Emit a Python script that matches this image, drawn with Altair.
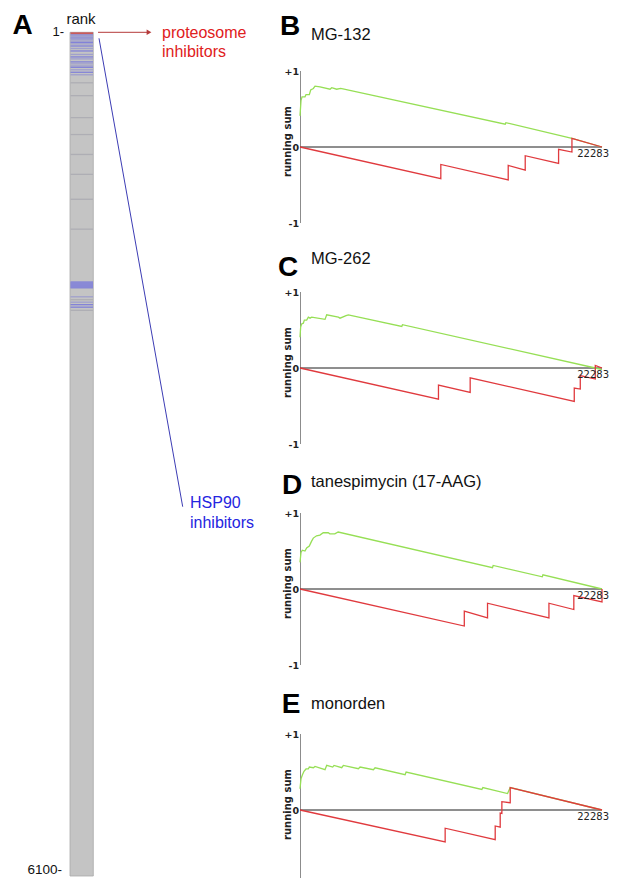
import altair as alt
import pandas as pd

# ---------------- data ----------------
N_GENES = 22283
RANK_FIRST, RANK_LAST = 1, 6100

# panel A: rank bar (ranks of connectivity-map instances)
red_band = [1, 14]  # proteosome inhibitors at the very top
blue_strong = [20, 42, 74, 100, 136, 179, 215, 254, 290,
               1806, 1813, 1820, 1827, 1834, 1841, 1848, 1970, 1988]
blue_light = [31, 53, 64, 85, 118, 161, 193, 229, 244, 272, 308, 1913, 1952]
gray_lines = [366, 459, 618, 740, 884, 1028, 1208, 1424, 1934, 2011]

# panels B-E: running-sum curves (x = gene rank, y = running sum)
letters = ["B", "C", "D", "E"]
names = ["MG-132", "MG-262", "tanespimycin (17-AAG)", "monorden"]

mg132_up_x = [0, 74, 148, 369, 443, 689, 788, 985, 1108, 1477, 2216, 2339, 2708, 3004, 15141, 15190, 20065, 22283]
mg132_up_y = [0.41, 0.61, 0.66, 0.66, 0.69, 0.69, 0.75, 0.77, 0.80, 0.79, 0.76, 0.78, 0.76, 0.77, 0.30, 0.32, 0.115, 0.0]
mg132_dn_x = [0, 10390, 10390, 15363, 15363, 16618, 16618, 19080, 19080, 20065, 20065, 22283]
mg132_dn_y = [0, -0.416, -0.23, -0.434, -0.243, -0.305, -0.115, -0.217, -0.03, -0.066, 0.115, 0.0]

mg262_up_x = [0, 49, 123, 246, 320, 492, 615, 739, 862, 1847, 1970, 2831, 2954, 3398, 3570, 7509, 7560, 21788, 22283]
mg262_up_y = [0.405, 0.54, 0.58, 0.59, 0.63, 0.63, 0.67, 0.656, 0.67, 0.64, 0.70, 0.67, 0.656, 0.69, 0.70, 0.546, 0.57, 0.0, -0.02]
mg262_dn_x = [0, 10217, 10217, 12556, 12556, 20237, 20237, 20680, 20680, 21788, 21788, 22283]
mg262_dn_y = [0, -0.41, -0.225, -0.32, -0.13, -0.44, -0.264, -0.277, -0.10, -0.145, 0.035, 0.0]

tane_up_x = [0, 73, 171, 367, 490, 686, 857, 980, 1224, 1469, 1714, 2081, 2204, 2571, 2816, 14204, 14253, 17877, 17926, 22283]
tane_up_y = [0.35, 0.48, 0.51, 0.50, 0.54, 0.565, 0.63, 0.67, 0.70, 0.71, 0.74, 0.74, 0.726, 0.726, 0.75, 0.28, 0.31, 0.16, 0.187, 0.0]
tane_dn_x = [0, 12123, 12123, 13837, 13837, 18368, 18368, 20204, 20204, 22283, 22283]
tane_dn_y = [0, -0.487, -0.29, -0.38, -0.187, -0.38, -0.187, -0.27, -0.087, -0.17, 0.0]

mono_up_x = [0, 74, 172, 295, 443, 615, 689, 985, 1108, 1847, 1970, 2413, 2511, 3078, 3200, 4309, 4432, 5416, 5540, 7755, 7829, 13418, 13492, 15314, 15511, 22283]
mono_up_y = [0.28, 0.41, 0.46, 0.51, 0.54, 0.54, 0.565, 0.556, 0.574, 0.53, 0.587, 0.565, 0.587, 0.556, 0.587, 0.543, 0.565, 0.53, 0.556, 0.465, 0.50, 0.27, 0.296, 0.217, 0.296, 0.0]
mono_dn_x = [0, 10710, 10710, 14403, 14403, 14772, 14772, 14895, 14895, 15511, 15511, 22283]
mono_dn_y = [0, -0.42, -0.24, -0.39, -0.21, -0.225, -0.04, -0.045, 0.11, 0.095, 0.296, 0.0]

curves = [
    (mg132_up_x, mg132_up_y, mg132_dn_x, mg132_dn_y),
    (mg262_up_x, mg262_up_y, mg262_dn_x, mg262_dn_y),
    (tane_up_x, tane_up_y, tane_dn_x, tane_dn_y),
    (mono_up_x, mono_up_y, mono_dn_x, mono_dn_y),
]

# ---------------- styling / layout ----------------
SANS = "Liberation Sans"
GREEN = "#96df55"
RED = "#e03a3e"

LW, LH = 262, 870
RANK1_PX, RANKN_PX = 24.3, 868.0
px_per_rank = (RANKN_PX - RANK1_PX) / (RANK_LAST - RANK_FIRST)
rank_scale = alt.Scale(
    domain=[RANK_FIRST - RANK1_PX / px_per_rank, RANK_LAST + (LH - RANKN_PX) / px_per_rank],
    reverse=True, nice=False, zero=False)

PW, PH = 302, 215
PH_LAST = 207
UNIT_PX = 76.0            # pixels per running-sum unit
TOP_BAND = 63             # pixels above +1 reserved for panel heading
y_top = 1 + TOP_BAND / UNIT_PX
heading_pos = {
    "B": dict(lx=-10, ly=18.5, ny=26.5),
    "C": dict(lx=-12, ly=38.5, ny=30),
    "D": dict(lx=-8, ly=36, ny=31.5),
    "E": dict(lx=-9, ly=34, ny=32.5),
}


def text_layer(txt, x, y, **kw):
    return alt.Chart(pd.DataFrame({"t": [txt]})).mark_text(**kw).encode(
        x=alt.value(x), y=alt.value(y), text="t:N")


# ---------------- panel A ----------------
bar_df = pd.DataFrame({"top": [RANK_FIRST], "bottom": [RANK_LAST]})
bar = alt.Chart(bar_df).mark_rect(fill="#c4c4c4", stroke="#a9a9a9", strokeWidth=0.8).encode(
    y=alt.Y("top:Q", scale=rank_scale, axis=None), y2="bottom:Q",
    x=alt.value(62), x2=alt.value(85.3))

lines_df = pd.DataFrame({
    "rank": gray_lines + blue_light + blue_strong,
    "kind": ["gray"] * len(gray_lines) + ["light"] * len(blue_light) + ["strong"] * len(blue_strong),
})
bar_lines = alt.Chart(lines_df).mark_rule(strokeWidth=1.3).encode(
    y=alt.Y("rank:Q", scale=rank_scale, axis=None),
    x=alt.value(62.5), x2=alt.value(85),
    color=alt.Color("kind:N", legend=None,
                    scale=alt.Scale(domain=["gray", "light", "strong"],
                                    range=["#aeaeb4", "#a0a0cc", "#8282d8"])))

red_df = pd.DataFrame({"top": [red_band[0]], "bottom": [red_band[1]]})
red_rect = alt.Chart(red_df).mark_rect(fill="#c95a5a").encode(
    y=alt.Y("top:Q", scale=rank_scale, axis=None), y2="bottom:Q",
    x=alt.value(62.5), x2=alt.value(85))

first_df = pd.DataFrame({"rank": [RANK_FIRST], "label": [f"{RANK_FIRST}-"]})
last_df = pd.DataFrame({"rank": [RANK_LAST], "label": [f"{RANK_LAST}-"]})
first_tick = alt.Chart(first_df).mark_text(align="right", baseline="middle", fontSize=13,
                                           font=SANS, color="#111").encode(
    y=alt.Y("rank:Q", scale=rank_scale, axis=None), x=alt.value(56), text="label:N")
last_tick = alt.Chart(last_df).mark_text(align="right", baseline="middle", fontSize=13.5,
                                         font=SANS, color="#111", dy=-6).encode(
    y=alt.Y("rank:Q", scale=rank_scale, axis=None), x=alt.value(54), text="label:N")

arrow_df = pd.DataFrame({"rank": [RANK_FIRST]})
arrow_line = alt.Chart(arrow_df).mark_rule(color="#b53a3a", strokeWidth=1).encode(
    y=alt.Y("rank:Q", scale=rank_scale, axis=None), x=alt.value(90), x2=alt.value(139))
arrow_head = alt.Chart(arrow_df).mark_point(shape="triangle-right", filled=True, size=30,
                                            color="#b53a3a", opacity=1).encode(
    y=alt.Y("rank:Q", scale=rank_scale, axis=None), x=alt.value(141))

hsp_line = alt.Chart(pd.DataFrame({"a": [0]})).mark_rule(color="#3c3cb4", strokeWidth=1).encode(
    x=alt.value(91), y=alt.value(30.3), x2=alt.value(174.7), y2=alt.value(498.7))

left = alt.layer(
    bar, bar_lines, red_rect, first_tick, last_tick, arrow_line, arrow_head, hsp_line,
    text_layer("A", 14.5, 17.5, fontSize=28, fontWeight="bold", font=SANS, align="center", baseline="middle", color="#000"),
    text_layer("rank", 73, 11, fontSize=15, font=SANS, align="center", baseline="middle", color="#111"),
    text_layer("proteosome", 154, 25.3, fontSize=16, font=SANS, align="left", baseline="middle", color="#e02020"),
    text_layer("inhibitors", 154, 43.7, fontSize=16, font=SANS, align="left", baseline="middle", color="#e02020"),
    text_layer("HSP90", 182, 494.5, fontSize=16, font=SANS, align="left", baseline="middle", color="#2525e0"),
    text_layer("inhibitors", 182, 514.5, fontSize=16, font=SANS, align="left", baseline="middle", color="#2525e0"),
).properties(width=LW, height=LH)

# ---------------- panels B-E ----------------
xsc = alt.Scale(domain=[0, N_GENES], nice=False, zero=False)


def panel(letter, name, ux, uy, dx, dy, height):
    pos = heading_pos[letter]
    y_bottom = -(height - TOP_BAND - UNIT_PX) / UNIT_PX
    ysc = alt.Scale(domain=[y_bottom, y_top], nice=False, zero=False)
    ticks = [v for v in (-1, 0, 1) if v >= y_bottom - 1e-9]
    yaxis = alt.Axis(values=ticks,
                     labelExpr="datum.value > 0 ? '+1' : (datum.value < 0 ? '-1' : '0')",
                     domain=False, ticks=False, grid=False, labelFlush=False, labelOverlap=False,
                     labelFont="DejaVu Sans", labelFontWeight="bold", labelFontSize=9.5,
                     labelColor="#222", labelPadding=1.5,
                     title="running sum", titleFont="DejaVu Sans", titleFontSize=10,
                     titleFontWeight="bold", titleColor="#222", titleAngle=270,
                     titleX=-8, titleY=TOP_BAND + UNIT_PX - 6, titleBaseline="bottom",
                     titleAlign="center")
    axis_df = pd.DataFrame({"x": [0], "y1": [-1], "y2": [1]})
    axis_line = alt.Chart(axis_df).mark_rule(color="#8c8c8c", strokeWidth=2, clip=True).encode(
        x=alt.X("x:Q", scale=xsc, axis=None),
        y=alt.Y("y1:Q", scale=ysc, axis=yaxis), y2="y2:Q")
    zero_df = pd.DataFrame({"x1": [0], "x2": [N_GENES], "y": [0]})
    zero_line = alt.Chart(zero_df).mark_rule(color="#1e1e1e", strokeWidth=1).encode(
        x=alt.X("x1:Q", scale=xsc, axis=None), x2="x2:Q",
        y=alt.Y("y:Q", scale=ysc, axis=yaxis))
    up = pd.DataFrame({"x": ux, "y": uy, "i": range(len(ux))})
    dn = pd.DataFrame({"x": dx, "y": dy, "i": range(len(dx))})
    up_line = alt.Chart(up).mark_line(color=GREEN, strokeWidth=1.3).encode(
        x=alt.X("x:Q", scale=xsc, axis=None), y=alt.Y("y:Q", scale=ysc, axis=yaxis),
        order="i:Q")
    dn_line = alt.Chart(dn).mark_line(color=RED, strokeWidth=1.3).encode(
        x=alt.X("x:Q", scale=xsc, axis=None), y=alt.Y("y:Q", scale=ysc, axis=yaxis),
        order="i:Q")
    end_df = pd.DataFrame({"x": [N_GENES], "y": [0], "t": [str(N_GENES)]})
    end_label = alt.Chart(end_df).mark_text(dy=7, dx=7, fontSize=10, font="DejaVu Sans",
                                            color="#222", align="right", baseline="middle").encode(
        x=alt.X("x:Q", scale=xsc, axis=None), y=alt.Y("y:Q", scale=ysc, axis=yaxis), text="t:N")
    return alt.layer(
        axis_line, zero_line, up_line, dn_line, end_label,
        text_layer(letter, pos["lx"], pos["ly"], fontSize=28, fontWeight="bold", font=SANS,
                   align="center", baseline="middle", color="#000"),
        text_layer(name, 11, pos["ny"], fontSize=16.5, font=SANS, align="left",
                   baseline="middle", color="#111"),
    ).properties(width=PW, height=height)


heights = [PH, PH, PH, PH_LAST]
right = alt.vconcat(
    *[panel(l, n, *c, h) for l, n, c, h in zip(letters, names, curves, heights)],
    spacing=6, bounds="flush")

chart = alt.hconcat(left, right, spacing=30, bounds="flush").properties(
    padding=0).configure_view(stroke=None)

chart.save("out.html", embed_options={"renderer": "svg", "actions": False})
